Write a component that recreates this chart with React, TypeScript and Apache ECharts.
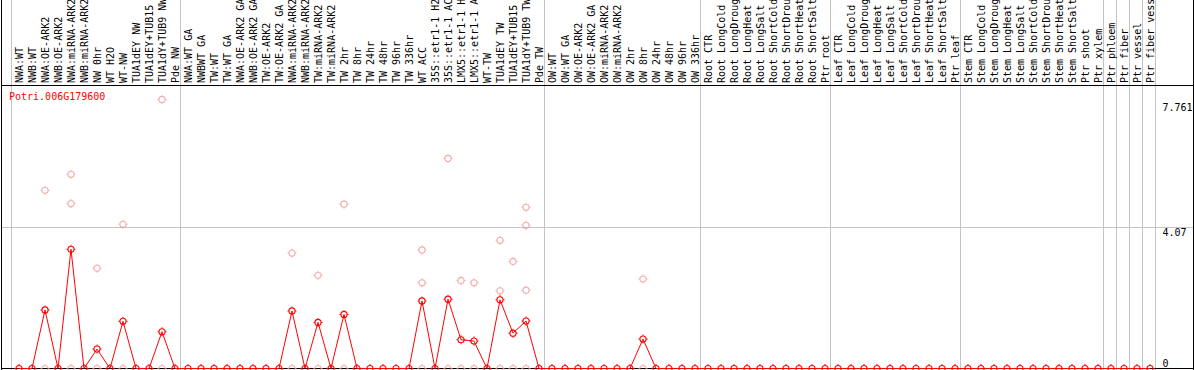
import React, { useEffect, useRef } from 'react';
import * as echarts from 'echarts';

const geneId = 'Potri.006G179600';

const categories: string[] = [
  'NWA:WT', 'NWB:WT', 'NWA:OE-ARK2', 'NWB:OE-ARK2', 'NWA:miRNA-ARK2', 'NWB:miRNA-ARK2',
  'NW 0hr', 'WT H2O', 'WT-NW', 'TUA1dEY NW', 'TUA1dEY+TUB15 NW', 'TUA1dY+TUB9 NW', 'Pde NW',
  'NWA:WT GA', 'NWBWT GA', 'TW:WT', 'TW:WT GA', 'NWA:OE-ARK2 GA', 'NWB:OE-ARK2 GA',
  'TW:OE-ARK2', 'TW:OE-ARK2 GA', 'NWA:miRNA-ARK2', 'NWB:miRNA-ARK2', 'TW:miRNA-ARK2',
  'TW:miRNA-ARK2', 'TW 2hr', 'TW 8hr', 'TW 24hr', 'TW 48hr', 'TW 96hr', 'TW 336hr',
  'WT ACC', '35S::etr1-1 H2O', '35S::etr1-1 ACC', 'LMX5::etr1-1 H2O', 'LMX5::etr1-1 ACC',
  'WT-TW', 'TUA1dEY TW', 'TUA1dEY+TUB15 TW', 'TUA1dY+TUB9 TW', 'Pde TW',
  'OW:WT', 'OW:WT GA', 'OW:OE-ARK2', 'OW:OE-ARK2 GA', 'OW:miRNA-ARK2', 'OW:miRNA-ARK2',
  'OW 2hr', 'OW 8hr', 'OW 24hr', 'OW 48hr', 'OW 96hr', 'OW 336hr',
  'Root CTR', 'Root LongCold', 'Root LongDrought', 'Root LongHeat', 'Root LongSalt',
  'Root ShortCold', 'Root ShortDrought', 'Root ShortHeat', 'Root ShortSalt', 'Ptr root',
  'Leaf CTR', 'Leaf LongCold', 'Leaf LongDrought', 'Leaf LongHeat', 'Leaf LongSalt',
  'Leaf ShortCold', 'Leaf ShortDrought', 'Leaf ShortHeat', 'Leaf ShortSalt', 'Ptr leaf',
  'Stem CTR', 'Stem LongCold', 'Stem LongDrought', 'Stem LongHeat', 'Stem LongSalt',
  'Stem ShortCold', 'Stem ShortDrought', 'Stem ShortHeat', 'Stem ShortSalt', 'Ptr shoot',
  'Ptr xylem', 'Ptr phloem', 'Ptr fiber', 'Ptr vessel', 'Ptr fiber vessel',
];

// mean expression per sample (red line)
const means: number[] = [
  0, 0, 1.69, 0, 3.44, 0, 0.56, 0, 1.36, 0, 0, 1.06, 0,
  0, 0, 0, 0, 0, 0, 0, 0,
  1.66, 0, 1.33, 0, 1.56, 0, 0, 0, 0, 0, 1.95, 0, 2.0, 0.83, 0.79, 0, 1.98, 1.02, 1.37, 0,
  0, 0, 0, 0, 0, 0, 0, 0.85, 0, 0, 0, 0,
  0, 0, 0, 0, 0, 0, 0, 0, 0, 0,
  0, 0, 0, 0, 0, 0, 0, 0, 0, 0,
  0, 0, 0, 0, 0, 0, 0, 0, 0, 0, 0,
  0, 0, 0, 0,
];

// individual replicate values: [sample index, value]
const replicates: [number, number][] = [
  [2, 5.14], [2, 0], [4, 5.6], [4, 4.76], [4, 0], [6, 2.89], [6, 0], [8, 4.16], [8, 0],
  [11, 7.761], [11, 0], [21, 3.33], [21, 0], [23, 2.69], [23, 0], [25, 4.74], [25, 0],
  [31, 3.42], [31, 2.47], [31, 0], [33, 6.06], [33, 0], [34, 2.54], [34, 0], [35, 2.47], [35, 0],
  [37, 3.7], [37, 2.24], [37, 0], [38, 3.09], [38, 0], [39, 4.65], [39, 4.13], [39, 2.26], [39, 0],
  [48, 2.58], [48, 0],
];

// group boundaries (index of first sample of each block, plus end)
const groupBounds: number[] = [0, 13, 41, 53, 63, 73, 84, 85, 86, 87, 88];

const yMaxValue = 7.761;
const yMidValue = 4.07;
const yZeroValue = 0;

const FONT = "'DejaVu Sans Mono', monospace";
const RED = '#ff0000';
const PINK = '#f09898';
const GRAY = '#c4c4c4';

const markerPath =
  'path://M0,-3.6A3.6,3.6,0,1,1,0,3.6A3.6,3.6,0,1,1,0,-3.6Z' +
  'M0,-2.5A2.5,2.5,0,1,0,0,2.5A2.5,2.5,0,1,0,0,-2.5Z' +
  'M-0.5,-4.5h1v1.5h-1Z M-0.5,3h1v1.5h-1Z M-4.5,-0.5h1.5v1h-1.5Z M3,-0.5h1.5v1h-1.5Z';

export default function App() {
  const ref = useRef<HTMLDivElement>(null);

  useEffect(() => {
    const el = ref.current;
    if (!el) return;
    const chart = echarts.init(el, null, { renderer: 'svg' });
    const axisMax = yMaxValue * 1.05;
    chart.setOption({
      animation: false,
      backgroundColor: '#ffffff',
      title: {
        text: geneId,
        left: 9,
        top: 91,
        padding: 0,
        textStyle: { color: RED, fontFamily: FONT, fontSize: 10, fontWeight: 'normal' },
      },
      grid: {
        left: 12.5,
        right: 37.5,
        top: 86,
        bottom: 1.5,
        containLabel: false,
        outerBoundsMode: 'none',
      },
      xAxis: {
        type: 'category',
        position: 'top',
        data: categories,
        boundaryGap: true,
        axisLine: { show: false },
        axisTick: { show: false },
        splitLine: { show: false },
        axisLabel: {
          interval: 0,
          rotate: 90,
          margin: 3,
          color: '#000',
          fontFamily: FONT,
          fontSize: 10,
        },
      },
      yAxis: [
        {
          type: 'value',
          position: 'right',
          min: 0,
          max: axisMax,
          axisLine: { show: false },
          axisTick: { show: false },
          splitLine: { show: false },
          axisLabel: {
            customValues: [yMidValue, yMaxValue],
            margin: 6,
            align: 'left',
            verticalAlign: 'top',
            color: '#000',
            fontFamily: FONT,
            fontSize: 10,
            formatter: (v: number) => (v === yMaxValue ? `{a|${v}}` : `${v}`),
            rich: {
              a: { padding: [3, 0, 0, 0], color: '#000', fontFamily: FONT, fontSize: 10 },
            },
          },
        },
        {
          type: 'value',
          position: 'right',
          min: 0,
          max: axisMax,
          axisLine: { show: false },
          axisTick: { show: false },
          splitLine: { show: false },
          axisLabel: {
            customValues: [yZeroValue],
            margin: 6,
            align: 'left',
            verticalAlign: 'bottom',
            color: '#000',
            fontFamily: FONT,
            fontSize: 10,
            formatter: (v: number) => `${v}`,
          },
        },
      ],
      series: [
        {
          name: 'replicates',
          type: 'scatter',
          data: replicates,
          symbol: markerPath,
          symbolSize: 9,
          itemStyle: { color: PINK, borderWidth: 0 },
          silent: true,
          z: 2,
        },
        {
          name: 'mean',
          type: 'line',
          data: means,
          symbol: markerPath,
          symbolSize: 9,
          showAllSymbol: true,
          lineStyle: { color: RED, width: 1 },
          itemStyle: { color: RED, borderWidth: 0 },
          silent: true,
          z: 3,
        },
      ],
    });

    const x0 = chart.convertToPixel({ xAxisIndex: 0 }, 0) as number;
    const x1 = chart.convertToPixel({ xAxisIndex: 0 }, 1) as number;
    const bw = x1 - x0;
    const yMid = chart.convertToPixel({ yAxisIndex: 0 }, yMidValue) as number;
    const yTop = 85.5;
    const yBottom = 368.5;
    const xLeft = 1.5;
    const xRight = 1193.5;

    const graphics: any[] = [];
    groupBounds.forEach((b) => {
      const edge = x0 + bw * (b - 0.5);
      const x = Math.floor(edge) - 0.5;
      graphics.push({
        type: 'line',
        z: 0,
        silent: true,
        shape: { x1: x, y1: 0, x2: x, y2: 370 },
        style: { stroke: GRAY, lineWidth: 1 },
      });
    });
    const ym = Math.round(yMid) + 0.5;
    graphics.push({
      type: 'line',
      z: 0,
      silent: true,
      shape: { x1: xLeft, y1: ym, x2: xRight, y2: ym },
      style: { stroke: GRAY, lineWidth: 1 },
    });
    const black = { stroke: '#000', lineWidth: 1 };
    graphics.push(
      { type: 'line', z: 1, silent: true, shape: { x1: xLeft, y1: 0, x2: xLeft, y2: 370 }, style: black },
      { type: 'line', z: 1, silent: true, shape: { x1: xRight, y1: 0, x2: xRight, y2: 370 }, style: black },
      { type: 'line', z: 1, silent: true, shape: { x1: xLeft, y1: yTop, x2: xRight, y2: yTop }, style: black },
      { type: 'line', z: 1, silent: true, shape: { x1: xLeft, y1: yBottom, x2: xRight, y2: yBottom }, style: black },
    );
    chart.setOption({ graphic: graphics });

    return () => chart.dispose();
  }, []);

  return (
    <div
      ref={ref}
      style={{ position: 'absolute', left: 0, top: 0, width: 1194, height: 370, background: '#fff' }}
    />
  );
}
